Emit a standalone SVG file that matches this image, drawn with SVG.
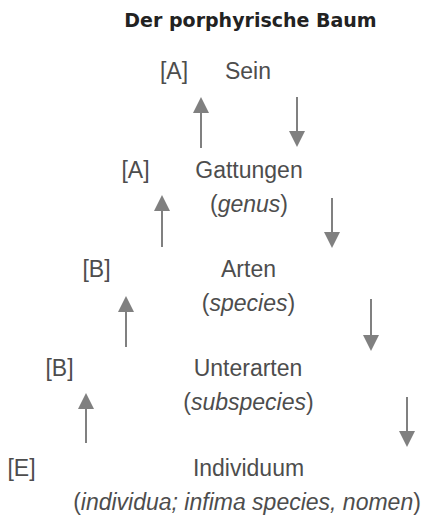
<svg xmlns="http://www.w3.org/2000/svg" width="426" height="517" viewBox="0 0 426 517">
<defs>
<marker id="head" markerUnits="userSpaceOnUse" markerWidth="16" markerHeight="16" viewBox="0 0 16 16" refX="0" refY="8" orient="auto">
<path d="M0,0 L16,8 L0,16 Z" fill="#808080"/>
</marker>
<style>
.t{font-family:"Liberation Sans",Arial,sans-serif;font-size:23px;fill:#4d4d4d;text-anchor:middle}
.i{font-style:italic}
.title{font-family:"DejaVu Sans",sans-serif;font-weight:bold;font-size:19px;fill:#222;text-anchor:middle}
.a{stroke:#808080;stroke-width:2;fill:none;marker-end:url(#head)}
</style>
</defs>
<rect width="426" height="517" fill="#fff"/>
<text class="title" x="250.5" y="27">Der porphyrische Baum</text>
<g id="sein">
<text class="t" x="174" y="79">[A]</text>
<text class="t" x="248" y="79">Sein</text>
</g>
<g id="gattungen">
<text class="t" x="135.5" y="178">[A]</text>
<text class="t" x="249" y="178">Gattungen</text>
<text class="t" x="249" y="212">(<tspan class="i">genus</tspan>)</text>
</g>
<g id="arten">
<text class="t" x="96.5" y="277">[B]</text>
<text class="t" x="248.5" y="277">Arten</text>
<text class="t" x="248.5" y="311">(<tspan class="i">species</tspan>)</text>
</g>
<g id="unterarten">
<text class="t" x="59.5" y="376">[B]</text>
<text class="t" x="248" y="376">Unterarten</text>
<text class="t" x="248.5" y="410">(<tspan class="i">subspecies</tspan>)</text>
</g>
<g id="individuum">
<text class="t" x="21.5" y="476">[E]</text>
<text class="t" x="248.5" y="476">Individuum</text>
<text class="t" x="247" y="510">(<tspan class="i">individua; infima species, nomen</tspan>)</text>
</g>
<g id="connectors">
<path class="a" d="M201,148 V113"/>
<path class="a" d="M297,97 V131"/>
<path class="a" d="M162,247 V211"/>
<path class="a" d="M332,198 V232"/>
<path class="a" d="M126,347 V312"/>
<path class="a" d="M371,299 V335"/>
<path class="a" d="M86,443 V409"/>
<path class="a" d="M407,397 V431"/>
</g>
</svg>
